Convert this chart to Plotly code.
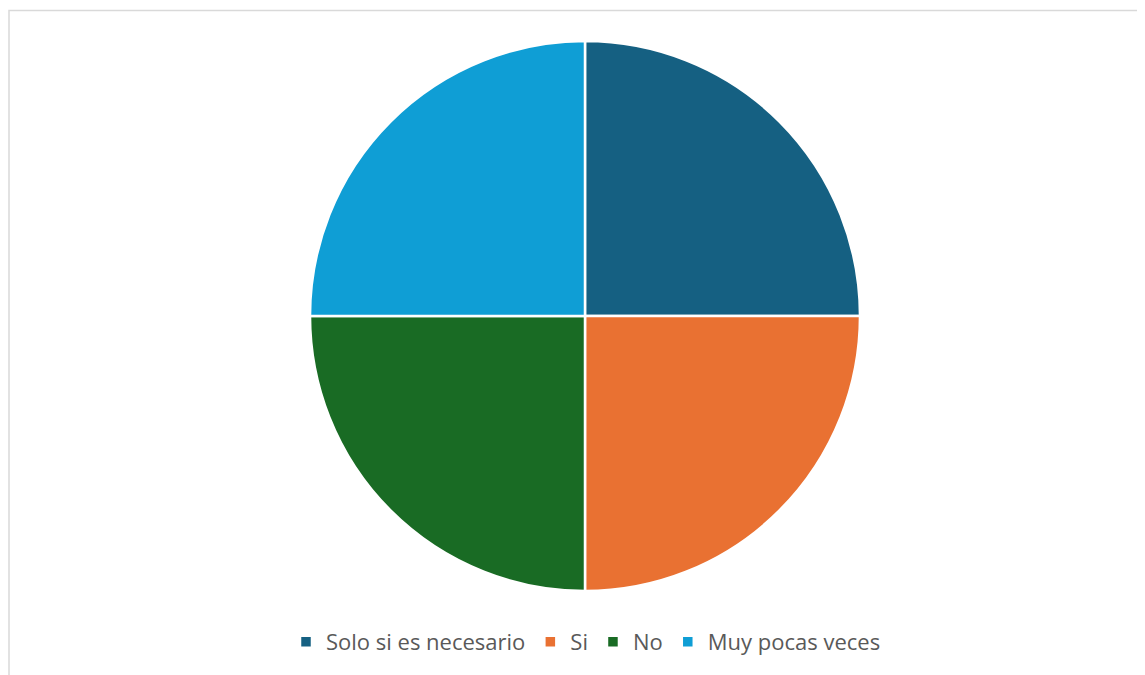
import plotly.graph_objects as go

labels = ["Solo si es necesario", "Si", "No", "Muy pocas veces"]
values = [1, 1, 1, 1]
colors = ["#156082", "#E97132", "#196B24", "#0F9ED5"]

W, H = 1145, 675
# page is offset by the 8px body margin
cx, cy, r = 577, 308, 275

fig = go.Figure(go.Pie(
    labels=labels,
    values=values,
    sort=False,
    direction="clockwise",
    rotation=0,
    marker=dict(colors=colors, line=dict(color="white", width=2.5)),
    textinfo="none",
    hoverinfo="label+value",
    domain=dict(x=[(cx - r) / W, (cx + r) / W], y=[1 - (cy + r) / H, 1 - (cy - r) / H]),
))

fig.update_layout(
    width=W, height=H,
    margin=dict(l=0, r=0, t=0, b=0),
    paper_bgcolor="white",
    plot_bgcolor="white",
    showlegend=True,
    legend=dict(
        orientation="h",
        x=578 / W, xanchor="center",
        y=1 - 634 / H, yanchor="middle",
        font=dict(family="Open Sans", size=22, color="#595959"),
        itemwidth=30,
        traceorder="normal",
    ),
    shapes=[dict(type="rect", xref="paper", yref="paper",
                 x0=1 / W, x1=1.2, y0=-0.2, y1=1 - 2.5 / H,
                 line=dict(color="#D9D9D9", width=1.5), fillcolor="rgba(0,0,0,0)")],
)

fig.write_html("out.html")
